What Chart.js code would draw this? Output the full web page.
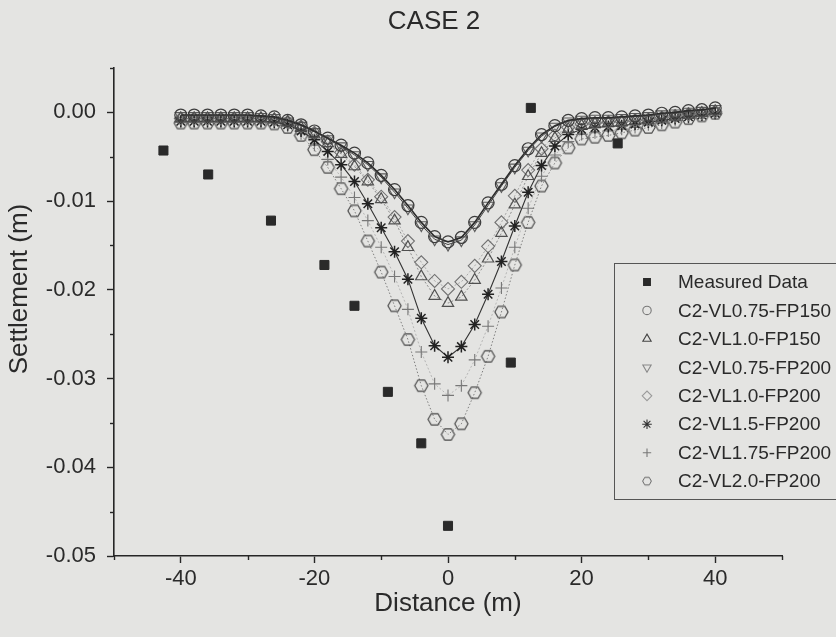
<!DOCTYPE html>
<html><head><meta charset="utf-8">
<script src="https://cdn.jsdelivr.net/npm/chart.js@4/dist/chart.umd.min.js"></script>
<style>html,body{margin:0;padding:0;background:#e4e4e2;}#wrap{width:836px;height:637px;}</style>
</head><body><div id="wrap"><canvas id="c" width="836" height="637"></canvas></div>
<script>
// ---- data ----
const chartTitle = "CASE 2";
const xTitle = "Distance (m)";
const yTitle = "Settlement (m)";
const xTickLabels = [-40, -20, 0, 20, 40];
const yTickLabels = [-0.05, -0.04, -0.03, -0.02, -0.01, 0.00];

const distance = [-40,-38,-36,-34,-32,-30,-28,-26,-24,-22,-20,-18,-16,-14,-12,-10,-8,-6,-4,-2,0,2,4,6,8,10,12,14,16,18,20,22,24,26,28,30,32,34,36,38,40];

const measuredX = [-42.6, -35.9, -26.5, -18.5, -14.0, -9.0, -4.0, 0.0, 9.4, 12.4, 25.4];
const measuredY = [-0.0043, -0.0070, -0.0122, -0.0172, -0.0218, -0.0315, -0.0373, -0.0466, -0.0282, 0.0005, -0.0035];

const vl075fp150 = [-0.0003,-0.0003,-0.0003,-0.0003,-0.0003,-0.0003,-0.0004,-0.0005,-0.0009,-0.0014,-0.0021,-0.0029,-0.0037,-0.0046,-0.0057,-0.0071,-0.0087,-0.0105,-0.0124,-0.0140,-0.0146,-0.0141,-0.0124,-0.0102,-0.0081,-0.0060,-0.0041,-0.0025,-0.0015,-0.0009,-0.0007,-0.0006,-0.0006,-0.0005,-0.0004,-0.0003,-0.0001,0.0000,0.0002,0.0003,0.0005];
const vl10fp150 = [-0.0007,-0.0007,-0.0007,-0.0007,-0.0007,-0.0007,-0.0007,-0.0008,-0.0011,-0.0017,-0.0025,-0.0035,-0.0047,-0.0061,-0.0078,-0.0098,-0.0122,-0.0152,-0.0185,-0.0207,-0.0215,-0.0208,-0.0189,-0.0165,-0.0136,-0.0104,-0.0072,-0.0046,-0.0029,-0.0019,-0.0015,-0.0013,-0.0012,-0.0011,-0.0010,-0.0009,-0.0007,-0.0005,-0.0003,-0.0001,0.0001];
const vl075fp200 = [-0.0004,-0.0004,-0.0004,-0.0004,-0.0004,-0.0004,-0.0005,-0.0006,-0.0010,-0.0015,-0.0022,-0.0030,-0.0038,-0.0048,-0.0059,-0.0073,-0.0090,-0.0108,-0.0127,-0.0143,-0.0149,-0.0144,-0.0127,-0.0105,-0.0083,-0.0062,-0.0043,-0.0027,-0.0016,-0.0010,-0.0008,-0.0007,-0.0007,-0.0006,-0.0005,-0.0004,-0.0002,-0.0001,0.0001,0.0002,0.0004];
const vl10fp200 = [-0.0007,-0.0007,-0.0007,-0.0007,-0.0007,-0.0007,-0.0007,-0.0008,-0.0011,-0.0016,-0.0023,-0.0033,-0.0045,-0.0059,-0.0076,-0.0095,-0.0118,-0.0145,-0.0169,-0.0190,-0.0199,-0.0191,-0.0173,-0.0151,-0.0124,-0.0094,-0.0065,-0.0041,-0.0026,-0.0017,-0.0013,-0.0012,-0.0011,-0.0010,-0.0009,-0.0008,-0.0006,-0.0004,-0.0002,-0.0001,0.0001];
const vl15fp200 = [-0.0010,-0.0010,-0.0010,-0.0010,-0.0010,-0.0010,-0.0010,-0.0011,-0.0014,-0.0021,-0.0031,-0.0044,-0.0059,-0.0078,-0.0103,-0.0130,-0.0157,-0.0188,-0.0232,-0.0263,-0.0276,-0.0264,-0.0239,-0.0205,-0.0168,-0.0128,-0.0090,-0.0060,-0.0038,-0.0025,-0.0019,-0.0017,-0.0016,-0.0015,-0.0013,-0.0011,-0.0009,-0.0007,-0.0005,-0.0003,-0.0001];
const vl175fp200 = [-0.0011,-0.0011,-0.0011,-0.0011,-0.0011,-0.0011,-0.0011,-0.0012,-0.0016,-0.0024,-0.0037,-0.0053,-0.0073,-0.0096,-0.0122,-0.0152,-0.0185,-0.0222,-0.0270,-0.0306,-0.0319,-0.0308,-0.0279,-0.0241,-0.0198,-0.0152,-0.0108,-0.0072,-0.0048,-0.0033,-0.0025,-0.0023,-0.0021,-0.0019,-0.0017,-0.0014,-0.0012,-0.0009,-0.0006,-0.0003,-0.0001];
const vl20fp200 = [-0.0012,-0.0012,-0.0012,-0.0012,-0.0012,-0.0012,-0.0012,-0.0013,-0.0017,-0.0026,-0.0042,-0.0062,-0.0086,-0.0111,-0.0145,-0.0180,-0.0218,-0.0256,-0.0308,-0.0346,-0.0363,-0.0351,-0.0316,-0.0275,-0.0225,-0.0172,-0.0124,-0.0083,-0.0057,-0.0040,-0.0030,-0.0028,-0.0026,-0.0023,-0.0020,-0.0017,-0.0014,-0.0011,-0.0007,-0.0004,-0.0001];

const seriesNames = ["Measured Data","C2-VL0.75-FP150","C2-VL1.0-FP150","C2-VL0.75-FP200","C2-VL1.0-FP200","C2-VL1.5-FP200","C2-VL1.75-FP200","C2-VL2.0-FP200"];

// ---- helpers ----
function pts(xs, ys){ return xs.map((x,i)=>({x:x, y:ys[i]})); }
function hexCanvas(r, color, lw){
  const s = Math.ceil(2*r+lw+2);
  const c = document.createElement('canvas'); c.width = s; c.height = s;
  const g = c.getContext('2d'); g.strokeStyle = color; g.lineWidth = lw;
  g.beginPath();
  for(let k=0;k<6;k++){ const a = Math.PI/3*k; const px = s/2 + r*Math.cos(a), py = s/2 + r*Math.sin(a); if(k===0) g.moveTo(px,py); else g.lineTo(px,py); }
  g.closePath(); g.stroke();
  return c;
}
const hexBig = hexCanvas(6.6, '#4a4a4a', 1.2);
const hexSmall = hexCanvas(4.4, '#666', 1.0);

const FONT = "'Liberation Sans', Arial, sans-serif";
const AX = '#262626';
const TXT = '#2a2a2a';

const datasets = [
  {label: seriesNames[0], data: pts(measuredX, measuredY), showLine:false, pointStyle:'rect', pointRadius:6.4, backgroundColor:'#2a2a2a', borderColor:'#2a2a2a', pointBorderWidth:1, lgRadius:4.8, lgColor:'#2a2a2a', lgFill:true},
  {label: seriesNames[1], data: pts(distance, vl075fp150), showLine:true, borderColor:'#2b2b2b', borderWidth:1.6, pointStyle:'circle', pointRadius:6, pointBorderColor:'#3c3c3c', pointBackgroundColor:'transparent', pointBorderWidth:1.2, lgRadius:4.2, lgColor:'#777'},
  {label: seriesNames[2], data: pts(distance, vl10fp150), showLine:true, borderColor:'#777', borderWidth:0.8, borderDash:[2,2], pointStyle:'triangle', pointRadius:6.5, pointBorderColor:'#505050', pointBackgroundColor:'transparent', pointBorderWidth:1.2, lgRadius:4.8, lgColor:'#444'},
  {label: seriesNames[3], data: pts(distance, vl075fp200), showLine:true, borderColor:'#444', borderWidth:1, pointStyle:'triangle', pointRotation:180, pointRadius:6.5, pointBorderColor:'#5a5a5a', pointBackgroundColor:'transparent', pointBorderWidth:1.1, lgRadius:4.8, lgColor:'#888', lgRot:180},
  {label: seriesNames[4], data: pts(distance, vl10fp200), showLine:true, borderColor:'#999', borderWidth:0.8, borderDash:[2,2], pointStyle:'rectRot', pointRadius:6.5, pointBorderColor:'#707070', pointBackgroundColor:'transparent', pointBorderWidth:1.1, lgRadius:4.8, lgColor:'#9a9a9a'},
  {label: seriesNames[5], data: pts(distance, vl15fp200), showLine:true, borderColor:'#333', borderWidth:1.1, pointStyle:'star', pointRadius:6, pointBorderColor:'#222', pointBackgroundColor:'transparent', pointBorderWidth:1.5, lgRadius:4.8, lgColor:'#333'},
  {label: seriesNames[6], data: pts(distance, vl175fp200), showLine:true, borderColor:'#aaa', borderWidth:0.8, borderDash:[2,2], pointStyle:'cross', pointRadius:6, pointBorderColor:'#777', pointBackgroundColor:'transparent', pointBorderWidth:1.1, lgRadius:4.2, lgColor:'#777'},
  {label: seriesNames[7], data: pts(distance, vl20fp200), showLine:true, borderColor:'#666', borderWidth:0.8, borderDash:[1.5,2], pointStyle:hexBig, pointRadius:6.6, pointBorderColor:'#4a4a4a', pointBackgroundColor:'transparent', pointBorderWidth:1.2, lgRadius:4.4, lgColor:'#666', lgImg:hexSmall}
];

const xMinor = [-50,-30,-10,10,30,50];
const yMinor = [-0.045,-0.035,-0.025,-0.015,-0.005,0.005];

const decorPlugin = {
  id: 'decor',
  beforeDraw(chart){
    const ctx = chart.ctx; ctx.save(); ctx.fillStyle = '#e4e4e2'; ctx.fillRect(0,0,chart.width,chart.height); ctx.restore();
  },
  afterDraw(chart){
    const ctx = chart.ctx, xs = chart.scales.x, ys = chart.scales.y;
    ctx.save();
    // minor ticks
    ctx.strokeStyle = AX; ctx.lineWidth = 1.4;
    xMinor.forEach(v=>{ const px = Math.round(xs.getPixelForValue(v))+0.5; ctx.beginPath(); ctx.moveTo(px, ys.bottom); ctx.lineTo(px, ys.bottom+4); ctx.stroke(); });
    yMinor.forEach(v=>{ const py = Math.round(ys.getPixelForValue(v))+0.5; ctx.beginPath(); ctx.moveTo(xs.left, py); ctx.lineTo(xs.left-4, py); ctx.stroke(); });
    ctx.fillStyle = TXT; ctx.textAlign='center'; ctx.textBaseline='middle';
    // chart title
    ctx.font = "26px " + FONT; ctx.fillText(chartTitle, 434, 22);
    // y-axis title
    ctx.font = "26px " + FONT;
    ctx.translate(20, 289); ctx.rotate(-Math.PI/2); ctx.fillText(yTitle, 0, 0);
    ctx.restore();
    // legend
    ctx.save();
    const bx = 614.5, by = 263.5, bw = 230, bh = 236;
    ctx.strokeStyle = '#555'; ctx.lineWidth = 1; ctx.strokeRect(bx, by, bw, bh);
    ctx.font = "19px " + FONT; ctx.textBaseline='middle'; ctx.textAlign='left';
    chart.data.datasets.forEach((ds,i)=>{
      const y = 282 + i*28.45, mx = 647;
      ctx.save();
      ctx.strokeStyle = ds.lgColor; ctx.fillStyle = ds.lgFill ? ds.lgColor : 'rgba(0,0,0,0)'; ctx.lineWidth = 1.1;
      if (ds.lgImg) { ctx.drawImage(ds.lgImg, mx - ds.lgImg.width/2, y - ds.lgImg.height/2); }
      else if (Chart.helpers && Chart.helpers.drawPoint) {
        Chart.helpers.drawPoint(ctx, {pointStyle: ds.pointStyle, rotation: ds.lgRot||0, radius: ds.lgRadius, borderWidth: 1.1}, mx, y);
      }
      ctx.restore();
      ctx.fillStyle = TXT; ctx.fillText(ds.label, 678, y+1);
    });
    ctx.restore();
  }
};

new Chart(document.getElementById('c'), {
  type: 'scatter',
  data: { datasets },
  options: {
    responsive: false, animation: false, devicePixelRatio: 1,
    layout: { padding: { left: 0, right: 54, top: 68, bottom: 0 } },
    elements: { line: { tension: 0 } },
    plugins: { legend: { display: false }, tooltip: { enabled: false }, title: { display: false } },
    scales: {
      x: {
        type: 'linear', min: -50, max: 50,
        afterBuildTicks(s){ s.ticks = [-50,-40,-30,-20,-10,0,10,20,30,40,50].map(v=>({value:v})); },
        afterFit(s){ s.height = 81; },
        grid: { display: true, drawOnChartArea: false, drawTicks: true, tickLength: 7, tickWidth: 1.4,
          tickColor: (c)=> (c.tick && xTickLabels.includes(c.tick.value)) ? AX : 'rgba(0,0,0,0)' },
        border: { display: true, color: AX, width: 1.6 },
        ticks: { autoSkip: false, maxRotation: 0, padding: 3, color: TXT, font: { family: FONT, size: 22 },
          callback: (v)=> xTickLabels.includes(v) ? String(v) : '' },
        title: { display: true, text: xTitle, color: TXT, font: { family: FONT, size: 26 }, padding: { top: 0, bottom: 18 } }
      },
      y: {
        type: 'linear', min: -0.05, max: 0.005,
        afterBuildTicks(s){ s.ticks = [-0.05,-0.045,-0.04,-0.035,-0.03,-0.025,-0.02,-0.015,-0.01,-0.005,0,0.005].map(v=>({value:v})); },
        afterFit(s){ s.width = 114; },
        grid: { display: true, drawOnChartArea: false, drawTicks: true, tickLength: 7, tickWidth: 1.4,
          tickColor: (c)=> (c.tick && yTickLabels.some(t=>Math.abs(t-c.tick.value)<1e-9)) ? AX : 'rgba(0,0,0,0)' },
        border: { display: true, color: AX, width: 1.6 },
        ticks: { autoSkip: false, padding: 11, color: TXT, font: { family: FONT, size: 22 },
          callback: (v)=> { const t = yTickLabels.find(t=>Math.abs(t-v)<1e-9); return t===undefined ? '' : (Math.abs(t)<1e-12 ? '0.00' : t.toFixed(2)); } },
        title: { display: false }
      }
    }
  },
  plugins: [decorPlugin]
});
</script>
</body></html>
